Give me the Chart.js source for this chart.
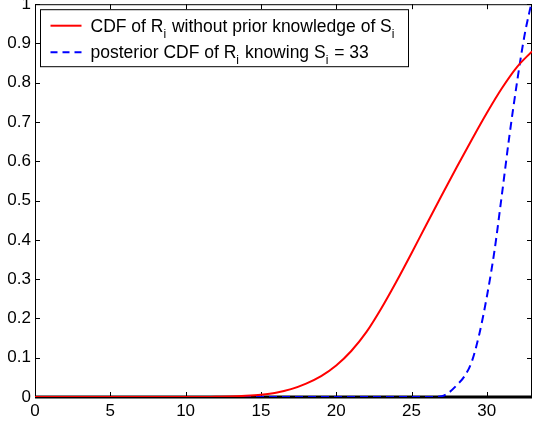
<!DOCTYPE html>
<html>
<head>
<meta charset="utf-8">
<script src="https://cdn.jsdelivr.net/npm/chart.js@4/dist/chart.umd.min.js"></script>
<style>
  html, body { margin: 0; padding: 0; background: #fff; overflow: hidden; }
  #wrap { position: absolute; left: 0; top: -10px; width: 533px; height: 433px; }
</style>
</head>
<body>
<div id="wrap"><canvas id="c"></canvas></div>
<script>
// values
const priorX = [0, 1, 2, 3, 4, 5, 6, 7, 8, 9, 10, 11, 12, 13, 14, 15, 16, 17, 18, 19, 20, 21, 22, 23, 24, 25, 26, 27, 28, 29, 30, 31, 32, 33];
const priorCdf = [0, 0, 0, 0, 0, 0, 0, 0, 0, 0, 0, 0, 0.0005, 0.001, 0.003, 0.006, 0.011, 0.02, 0.034, 0.053, 0.08, 0.117, 0.165, 0.226, 0.294, 0.366, 0.44, 0.513, 0.585, 0.655, 0.723, 0.786, 0.84, 0.88];
const postX = [0, 5, 10, 15, 20, 25, 26, 27, 27.5, 28, 28.5, 29, 29.5, 30, 30.5, 31, 31.5, 32, 32.5, 33];
const postCdf = [0, 0, 0, 0, 0, 0, 0, 0.002, 0.012, 0.03, 0.052, 0.09, 0.16, 0.255, 0.37, 0.515, 0.665, 0.8, 0.92, 1.01];
const xTicks = [0, 5, 10, 15, 20, 25, 30];
const yTicks = [0, 0.1, 0.2, 0.3, 0.4, 0.5, 0.6, 0.7, 0.8, 0.9, 1];

const FONT = "'Liberation Sans', Arial, Helvetica, sans-serif";
const RED = "#ff0000", BLUE = "#0000ff";

const legendRows = [
  { color: RED, dash: [], parts: [["CDF of R", 0], ["i", 1], [" without prior knowledge of S", 0], ["i", 1]] },
  { color: BLUE, dash: [7, 5], parts: [["posterior CDF of R", 0], ["i", 1], [" knowing S", 0], ["i", 1], [" = 33", 0]] },
];

// axis box with inward ticks on all four sides, matlab style
const framePlugin = {
  id: "frame",
  beforeDatasetsDraw(chart) {
    const { ctx, chartArea: a, scales: { x, y } } = chart;
    ctx.save();
    ctx.strokeStyle = "#000";
    ctx.lineWidth = 1;
    ctx.strokeRect(a.left + 0.5, a.top + 0.5, a.right - a.left - 1, a.bottom - a.top);
    ctx.lineWidth = 3;
    ctx.beginPath();
    ctx.moveTo(a.left, a.bottom);
    ctx.lineTo(a.right, a.bottom);
    ctx.stroke();
    ctx.lineWidth = 1;
    ctx.beginPath();
    xTicks.forEach(v => {
      const px = Math.round(x.getPixelForValue(v)) + 0.5;
      ctx.moveTo(px, a.bottom); ctx.lineTo(px, a.bottom - 5);
      ctx.moveTo(px, a.top); ctx.lineTo(px, a.top + 5);
    });
    yTicks.forEach(v => {
      const py = Math.round(y.getPixelForValue(v)) + 0.5;
      ctx.moveTo(a.left, py); ctx.lineTo(a.left + 5, py);
      ctx.moveTo(a.right, py); ctx.lineTo(a.right - 5, py);
    });
    ctx.stroke();
    ctx.restore();
  },
  afterDraw(chart) {
    const { ctx, chartArea: a } = chart;
    const bx = a.left + 5.5, by = a.top + 5.5, bw = 368, bh = 57;
    ctx.save();
    ctx.fillStyle = "#fff";
    ctx.fillRect(bx, by, bw, bh);
    ctx.strokeStyle = "#000";
    ctx.lineWidth = 1;
    ctx.strokeRect(bx, by, bw, bh);
    legendRows.forEach((row, i) => {
      const cy = by + 16 + i * 26.5;
      ctx.strokeStyle = row.color;
      ctx.lineWidth = 2;
      ctx.setLineDash(row.dash);
      ctx.beginPath();
      ctx.moveTo(bx + 10, cy); ctx.lineTo(bx + 41, cy);
      ctx.stroke();
      ctx.setLineDash([]);
      ctx.fillStyle = "#000";
      ctx.textBaseline = "alphabetic";
      let tx = bx + 50;
      row.parts.forEach(([txt, sub]) => {
        ctx.font = (sub ? "12px " : "17.5px ") + FONT;
        ctx.fillText(txt, tx, cy + 6 + (sub ? 6 : 0));
        tx += ctx.measureText(txt).width + (sub ? 1 : 0);
      });
    });
    ctx.restore();
  }
};

new Chart(document.getElementById("c"), {
  type: "line",
  data: {
    datasets: [
      {
        label: "prior",
        data: priorX.map((v, i) => ({ x: v, y: priorCdf[i] })),
        borderColor: RED, borderWidth: 2, pointRadius: 0,
        cubicInterpolationMode: "monotone", fill: false,
      },
      {
        label: "posterior",
        data: postX.map((v, i) => ({ x: v, y: postCdf[i] })),
        borderColor: BLUE, borderWidth: 2, borderDash: [8, 5], pointRadius: 0,
        cubicInterpolationMode: "monotone", fill: false,
      },
    ],
  },
  options: {
    responsive: true,
    maintainAspectRatio: false,
    animation: false,
    layout: { padding: { left: 0, right: 1, top: 0, bottom: 0 } },
    plugins: { legend: { display: false }, tooltip: { enabled: false } },
    scales: {
      x: {
        type: "linear", min: 0, max: 33,
        afterBuildTicks: s => { s.ticks = xTicks.map(v => ({ value: v })); },
        afterFit: s => { s.height = 26; },
        grid: { display: false, drawTicks: false },
        border: { display: false },
        ticks: { color: "#000", font: { family: FONT, size: 17 }, padding: 4, maxRotation: 0, callback: v => String(v) },
      },
      y: {
        min: 0, max: 1,
        afterBuildTicks: s => { s.ticks = yTicks.map(v => ({ value: v })); },
        afterFit: s => { s.width = 35; },
        grid: { display: false, drawTicks: false },
        border: { display: false },
        ticks: { color: "#000", font: { family: FONT, size: 17 }, padding: 4, callback: v => String(+v.toFixed(1)) },
      },
    },
  },
  plugins: [framePlugin],
});
</script>
</body>
</html>
